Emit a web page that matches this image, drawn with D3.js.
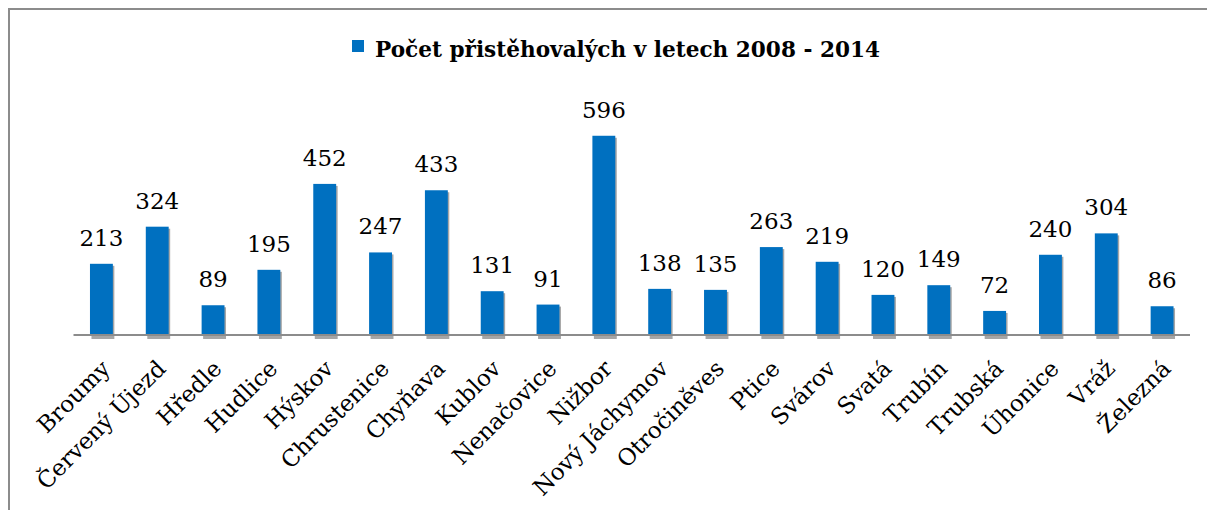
<!DOCTYPE html>
<html lang="cs">
<head>
<meta charset="UTF-8">
<title>Počet přistěhovalých</title>
<script src="https://cdn.jsdelivr.net/npm/d3@7"></script>
<style>
	body {
		margin: 0;
		background: #ffffff;
	}
	.value {
		font-family: "DejaVu Serif", serif;
		font-size: 23px;
		fill: #000;
	}
	.cat {
		font-family: "DejaVu Serif", serif;
		font-size: 23px;
		fill: #000;
	}
	.title {
		font-family: "DejaVu Serif", serif;
		font-size: 23px;
		font-weight: bold;
		fill: #000;
	}
</style>
</head>
<body>
<div id="chart"></div>
<script>
var obce = ['Broumy', 'Červený Újezd', 'Hředle', 'Hudlice', 'Hýskov', 'Chrustenice',
	'Chyňava', 'Kublov', 'Nenačovice', 'Nižbor', 'Nový Jáchymov', 'Otročiněves',
	'Ptice', 'Svárov', 'Svatá', 'Trubín', 'Trubská', 'Úhonice', 'Vráž', 'Železná'];
var pocty = [213, 324, 89, 195, 452, 247, 433, 131, 91, 596, 138, 135, 263, 219, 120, 149, 72, 240, 304, 86];
var nazevRady = 'Počet přistěhovalých v letech 2008 - 2014';

var W = 1207, H = 510;
var margin = {left: 73.5, right: 17, top: 101, bottom: 175};
var plotW = W - margin.left - margin.right;
var plotH = H - margin.top - margin.bottom;

var svg = d3.select('#chart').append('svg')
	.attr('width', W)
	.attr('height', H);

// frame (only left and top edges visible)
svg.append('path')
	.attr('d', 'M9,' + H + 'V9H' + W)
	.attr('fill', 'none')
	.attr('stroke', '#8c8c8c')
	.attr('stroke-width', 2);

var g = svg.append('g')
	.attr('transform', 'translate(' + margin.left + ',' + margin.top + ')');

var x = d3.scaleBand()
	.domain(obce)
	.range([0, plotW])
	.paddingInner(0.59)
	.paddingOuter(0.295);

var y = d3.scaleLinear()
	.domain([0, 700])
	.range([plotH, 0]);

// shadows
g.selectAll('.shadow')
	.data(pocty)
	.enter().append('rect')
	.attr('class', 'shadow')
	.attr('x', function (d, i) { return x(obce[i]) + 1.5; })
	.attr('y', function (d) { return y(d) + 2; })
	.attr('width', x.bandwidth())
	.attr('height', function (d) { return plotH - y(d) + 2; })
	.style('fill', '#a6a6a6');

g.selectAll('.bar')
	.data(pocty)
	.enter().append('rect')
	.attr('class', 'bar')
	.attr('x', function (d, i) { return x(obce[i]); })
	.attr('y', function (d) { return y(d); })
	.attr('width', x.bandwidth())
	.attr('height', function (d) { return plotH - y(d); })
	.style('fill', '#0070c0');

// axis line
g.append('line')
	.attr('x1', 0)
	.attr('x2', plotW)
	.attr('y1', plotH)
	.attr('y2', plotH)
	.attr('stroke', '#8c8c8c')
	.attr('stroke-width', 2);

g.selectAll('.value')
	.data(pocty)
	.enter().append('text')
	.attr('class', 'value')
	.attr('x', function (d, i) { return x(obce[i]) + x.bandwidth() / 2; })
	.attr('y', function (d) { return y(d) - 18; })
	.attr('text-anchor', 'middle')
	.text(function (d) { return d; });

g.selectAll('.cat')
	.data(obce)
	.enter().append('text')
	.attr('class', 'cat')
	.attr('text-anchor', 'end')
	.attr('transform', function (d) {
		return 'translate(' + (x(d) + x.bandwidth() / 2 + 10) + ',' + (plotH + 35) + ') rotate(-45)';
	})
	.text(function (d) { return d; });

// legend / title
var leg = svg.append('g');
leg.append('rect')
	.attr('x', 352)
	.attr('y', 40)
	.attr('width', 12)
	.attr('height', 12)
	.style('fill', '#0070c0');
var title = leg.append('text')
	.attr('class', 'title')
	.attr('x', 375)
	.attr('y', 57)
	.text(nazevRady);
// squeeze to the width of the original heading
var tw = title.node().getComputedTextLength();
if (tw > 505) {
	title.attr('textLength', 505).attr('lengthAdjust', 'spacingAndGlyphs');
}
</script>
</body>
</html>
